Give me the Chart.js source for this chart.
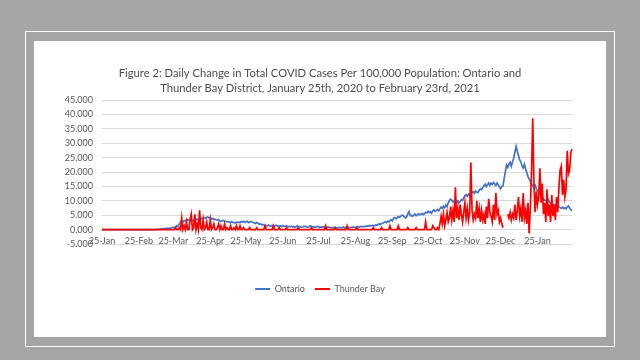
<!DOCTYPE html>
<html>
<head>
<meta charset="utf-8">
<script src="https://cdn.jsdelivr.net/npm/chart.js@4/dist/chart.umd.min.js"></script>
<style>
  html, body { margin: 0; padding: 0; }
  body { width: 640px; height: 360px; background: #a5a5a5; position: relative; overflow: hidden; }
  #frame { position: absolute; left: 25px; top: 31px; width: 588px; height: 314px; border: 1px solid #ffffff; }
  #panel { position: absolute; left: 34px; top: 41px; width: 572px; height: 296px; background: #ffffff; }
</style>
</head>
<body>
<div id="frame"></div>
<div id="panel"><canvas id="chart"></canvas></div>
<script>
const startDate = [2020, 0, 25];   // 25-Jan-2020, one value per day to 23-Feb-2021
const monthNames = ['Jan', 'Feb', 'Mar', 'Apr', 'May', 'Jun', 'Jul', 'Aug', 'Sep', 'Oct', 'Nov', 'Dec'];
const yTicks = [-5, 0, 5, 10, 15, 20, 25, 30, 35, 40, 45];
const seriesNames = ['Ontario', 'Thunder Bay'];

// daily change per 100,000, one line per month
const ontario = [
  0, 0, 0, 0, 0, 0, 0,
  0, 0, 0, 0, 0, 0, 0, 0, 0, 0, 0, 0, 0, 0, 0, 0, 0, 0, 0, 0, 0, 0, 0, 0, 0, 0, 0, 0, 0,
  0, 0, 0, 0, 0, 0, 0, 0, 0.01, 0.02, 0.1, 0.12, 0.1, 0.15, 0.2, 0.22, 0.3, 0.35, 0.4, 0.45, 0.45, 0.5, 0.6, 0.7, 0.85, 0.6, 1.0, 1.4, 1.2, 1.9, 2.6,
  2.9, 2.6, 3.1, 3.2, 2.8, 3.5, 3.3, 3.6, 3.4, 3.1, 3.3, 2.9, 3.5, 3.7, 3.3, 3.8, 4.1, 3.6, 4.0, 4.2, 3.9, 4.3, 4.4, 4.0, 4.2, 3.7, 3.9, 3.5, 3.6, 3.4,
  3.3, 3.5, 3.0, 2.8, 3.1, 3.2, 3.0, 2.9, 2.7, 2.8, 2.6, 2.4, 2.7, 2.5, 2.4, 2.3, 2.5, 2.6, 2.5, 2.4, 2.8, 2.6, 2.9, 2.5, 2.7, 2.9, 2.4, 2.6, 2.8, 2.7, 2.5,
  2.3, 2.1, 2.5, 2.2, 1.9, 2.0, 1.7, 1.8, 1.6, 1.5, 1.4, 1.3, 1.6, 1.3, 1.2, 1.4, 1.3, 1.2, 1.5, 1.3, 1.2, 1.1, 1.3, 1.0, 1.4, 1.2, 1.1, 1.3, 1.0, 1.1,
  1.0, 1.2, 0.9, 1.1, 0.8, 1.0, 1.3, 0.9, 1.1, 1.0, 0.9, 1.0, 1.2, 1.1, 0.8, 0.9, 1.0, 1.3, 1.1, 0.9, 1.0, 0.8, 0.9, 1.1, 1.0, 0.7, 0.9, 0.8, 1.0, 0.9, 0.8,
  0.7, 0.9, 0.8, 0.6, 0.7, 0.6, 0.8, 0.7, 0.5, 0.6, 0.7, 0.8, 0.6, 0.7, 0.9, 0.6, 0.7, 0.8, 0.7, 0.6, 0.8, 0.7, 0.9, 0.8, 0.7, 0.9, 1.0, 0.8, 1.0, 1.1, 1.0,
  1.0, 1.1, 1.2, 1.1, 1.3, 1.4, 1.3, 1.5, 1.4, 1.3, 1.6, 1.5, 1.8, 2.0, 1.7, 2.1, 2.2, 2.5, 2.7, 2.4, 2.9, 2.7, 3.2, 3.4, 3.0, 3.9, 4.2, 3.8, 4.1, 4.5,
  4.3, 4.6, 5.0, 4.9, 4.5, 4.0, 4.4, 5.5, 6.3, 4.8, 4.9, 4.6, 5.0, 5.4, 4.8, 5.2, 5.5, 5.1, 5.3, 5.6, 5.2, 5.5, 6.0, 5.8, 6.4, 5.9, 6.2, 5.7, 6.5, 6.8, 6.3,
  6.6, 7.0, 6.5, 7.2, 7.8, 7.4, 8.1, 7.6, 8.5, 8.0, 9.3, 10.1, 10.6, 10.2, 9.6, 9.9, 10.3, 9.5, 10.0, 9.2, 9.8, 10.4, 10.1, 11.0, 11.8, 12.1, 11.6, 12.3, 11.8, 12.6,
  12.9, 13.2, 12.6, 13.4, 13.0, 12.8, 13.6, 14.2, 13.9, 14.6, 15.2, 15.8, 14.9, 15.6, 16.2, 15.4, 16.1, 15.7, 16.4, 15.9, 15.3, 16.2, 15.6, 14.8, 14.2, 14.9, 15.2, 17.8, 20.1, 22.4, 21.6,
  22.8, 23.4, 22.0, 23.6, 24.8, 26.9, 28.9, 27.2, 25.8, 24.2, 23.6, 22.1, 21.4, 22.7, 21.0, 19.8, 18.4, 17.6, 16.8, 15.9, 15.2, 14.8, 15.4, 14.1, 13.6, 12.9, 12.4, 11.8, 11.2, 10.6, 10.2,
  10.1, 9.8, 10.4, 9.6, 9.2, 8.9, 8.7, 8.4, 8.6, 8.1, 8.3, 7.9, 7.6, 7.4, 7.8, 7.3, 7.6, 7.2, 7.9, 8.2, 7.5, 6.9, 6.5
];

const thunderBay = [
  0, 0, 0, 0, 0, 0, 0,
  0, 0, 0, 0, 0, 0, 0, 0, 0, 0, 0, 0, 0, 0, 0, 0, 0, 0, 0, 0, 0, 0, 0, 0, 0, 0, 0, 0, 0,
  0, 0, 0, 0, 0, 0, 0, 0, 0, 0, 0, 0, 0, 0, 0, 0, 0, 0, 0, 0, 0, 0, 0, 0, 0, 0, 0.67, 0, 0, 0.67, 0,
  4.0, 0, 1.33, 0, 2.67, 0, 0, 3.33, 5.33, 0, 0.67, 5.33, 0, 2.0, 0, 6.67, 0.67, 0, 3.33, 0, 0.67, 2.67, 0, 0, 3.33, 0, 0.67, 2.0, 0, 0,
  0.67, 2.0, 0, 1.33, 0, 0, 2.0, 0, 0.67, 0, 0, 1.33, 0, 0, 0.67, 0, 1.33, 0, 0, 1.33, 0, 0, 0.67, 0, 0, 0, 0, 0.67, 0, 0, 0,
  0, 0, 0.67, 0, 0, 0, 0, 0, 0, 1.33, 0, 0, 0, 0, 0, 0, 1.33, 0, 0, 0, 0, 0.67, 0, 0, 0, 0, 0, 0.67, 0, 0,
  0, 0, 0, 0, 0, 0, 0, 0.67, 0, 0, 0, 0, 0, 0, 0, 0, 0, 0, 0.67, 0, 0, 0, 0, 0, 0, 0, 0, 0, 0, 0, 1.33,
  0, 0, 0, 0, 0, 0, 0, 0.67, 0, 0, 0, 0, 0, 0, 0, 0, 0, 1.33, 0, 0, 0, 0, 0, 0, 0, 0.67, 0, 0, 0, 0, 0,
  0, 0, 0, 0, 0, 0, 0, 0, 0.67, 0, 0, 0, 0, 0, 0, 0.67, 0, 0, 0, 0, 0, 0, 1.33, 0, 0, 0, 0, 0, 0, 1.33,
  0, 0, 0, 0, 0, 0, 0, 0.67, 0, 0, 0, 0, 0, 0, 0.67, 0, 0, 0, 0, 0, 0, 0, 2.67, 0, 0, 0, 0, 0, 1.33, 0.67, 0,
  0, 0.67, 0, 2.0, 4.67, 2.0, 5.33, 1.33, 3.33, 6.0, 2.67, 4.0, 8.0, 3.33, 6.67, 2.67, 14.67, 4.0, 7.33, 3.33, 8.67, 5.33, 2.67, 6.0, 9.33, 4.0, 7.33, 3.33, 6.0, 23.33,
  6.67, 3.33, 5.33, 4.0, 10.0, 4.0, 7.33, 2.67, 6.67, 3.33, 5.33, 2.0, 8.0, 4.0, 10.67, 6.0, 4.67, 2.67, 8.67, 3.33, 12.67, 5.33, 6.67, 2.67, 4.0, 2.0, 0.67, null, null, null, 5.33,
  4.0, 6.0, 3.33, 5.33, 4.0, 8.67, 3.33, 6.67, 11.33, 4.67, 7.33, 2.67, 12.67, 4.0, 6.67, 2.0, 9.33, -1.33, 8.0, 20.0, 38.67, 16.0, 6.0, 13.33, 8.67, 11.33, 21.33, 9.33, 16.0, 5.33, 9.33,
  2.67, 14.0, 4.67, 8.67, 2.67, 12.0, 4.67, 8.67, 3.33, 11.33, 6.0, 14.67, 20.67, 22.0, 12.0, 17.33, 11.33, 14.0, 27.33, 19.33, 20.67, 26.67, 28.0
];

// day labels like "25-Jan", one per value
const labels = ontario.map((_, i) => {
  const d = new Date(startDate[0], startDate[1], startDate[2] + i);
  return d.getDate() + '-' + monthNames[d.getMonth()];
});

const textColor = '#595959';
const gridColor = '#d9d9d9';
const fontFamily = 'Lato, "Open Sans", sans-serif';

new Chart(document.getElementById('chart'), {
  type: 'line',
  data: {
    labels: labels,
    datasets: [{
      label: seriesNames[0],
      data: ontario,
      xAxisID: 'x',
      yAxisID: 'y',
      borderColor: '#4472c4',
      backgroundColor: '#4472c4',
      borderWidth: 1.7,
      pointRadius: 0,
      order: 1
    }, {
      label: seriesNames[1],
      data: thunderBay,
      xAxisID: 'x',
      yAxisID: 'y',
      borderColor: '#ff0000',
      backgroundColor: '#ff0000',
      borderWidth: 1.7,
      pointRadius: 0,
      order: 0
    }]
  },
  options: {
    responsive: true,
    maintainAspectRatio: false,
    animation: false,
    layout: {
      padding: { top: 17, left: 0, right: 0, bottom: 33.5 }
    },
    scales: {
      x: {
        type: 'category',
        position: { y: 0 },
        offset: false,
        grid: { display: false, drawTicks: false },
        border: { display: false },
        ticks: {
          autoSkip: false,
          maxRotation: 0,
          minRotation: 0,
          padding: 6,
          color: textColor,
          font: { family: fontFamily, size: 9 },
          callback: function (value, index) {
            const lab = labels[index];
            return lab.startsWith('25-') ? lab : null;
          }
        }
      },
      y: {
        min: yTicks[0],
        max: yTicks[yTicks.length - 1],
        afterBuildTicks: scale => { scale.ticks = yTicks.map(v => ({ value: v })); },
        afterFit: scale => { scale.width = 68; },
        grid: { color: gridColor, drawTicks: false, lineWidth: 1 },
        border: { display: false },
        ticks: {
          padding: 9,
          color: textColor,
          font: { family: fontFamily, size: 9 },
          callback: value => value.toFixed(3)
        }
      },
      // empty boxes that keep the plot off the legend and the right edge
      gap: {
        type: 'category',
        position: 'bottom',
        grid: { display: false },
        border: { display: false },
        ticks: { display: false },
        afterFit: scale => { scale.height = 30.5; }
      },
      gapRight: {
        type: 'linear',
        position: 'right',
        min: 0,
        max: 1,
        grid: { display: false },
        border: { display: false },
        ticks: { display: false },
        afterFit: scale => { scale.width = 34; }
      }
    },
    plugins: {
      title: {
        display: true,
        text: ['Figure 2: Daily Change in Total COVID Cases Per 100,000 Population: Ontario and',
               'Thunder Bay District, January 25th, 2020 to February 23rd, 2021'],
        color: '#4d4d4d',
        font: { family: fontFamily, size: 11.2, weight: 'normal', lineHeight: 15 / 11.2 },
        padding: { top: 8, bottom: 4 }
      },
      legend: {
        position: 'bottom',
        labels: {
          boxWidth: 15,
          boxHeight: 2,
          padding: 10,
          color: textColor,
          font: { family: fontFamily, size: 9 },
          sort: (a, b) => a.datasetIndex - b.datasetIndex,
          generateLabels: chart => Chart.defaults.plugins.legend.labels.generateLabels(chart)
            .map(item => Object.assign(item, { lineWidth: 0 }))
        }
      },
      tooltip: { enabled: false }
    }
  }
});
</script>
</body>
</html>
